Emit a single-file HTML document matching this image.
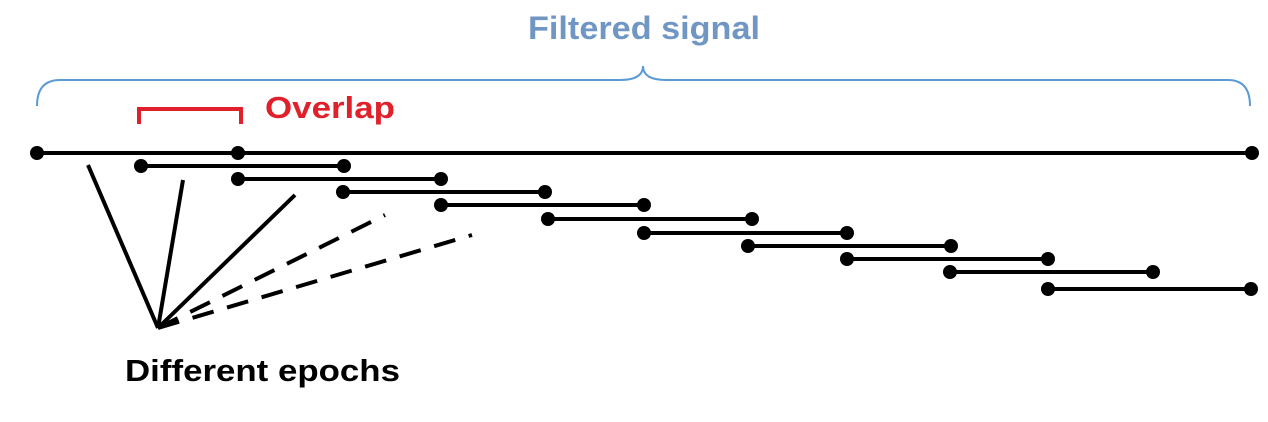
<!DOCTYPE html>
<html>
<head>
<meta charset="utf-8">
<style>
html,body{margin:0;padding:0;background:#fff;}
svg{display:block;}
text{font-family:"Liberation Sans",sans-serif;font-weight:bold;}
</style>
</head>
<body>
<svg id="chart" width="1268" height="422" viewBox="0 0 1268 422">
  <text x="528" y="39" textLength="232" lengthAdjust="spacingAndGlyphs" font-size="32" fill="#7096c4">Filtered signal</text>
  <path d="M37,106 Q37,80 60,80 L620,80 Q643,80 643,66 Q643,80 666,80 L1228,80 Q1250,80 1250,106" fill="none" stroke="#5b9bd5" stroke-width="2"/>
  <path d="M139,124 L139,109 L241,109 L241,124" fill="none" stroke="#e0202a" stroke-width="4"/>
  <text x="265" y="118" textLength="130" lengthAdjust="spacingAndGlyphs" font-size="31" fill="#e0202a">Overlap</text>
  <g id="marks"></g>
  <text x="125" y="381" textLength="275" lengthAdjust="spacingAndGlyphs" font-size="31" fill="#000">Different epochs</text>
</svg>
<script>
const signalStart = 37;
const signalEnd = 1252;
const epochStarts = [141, 238, 343, 441, 548, 644, 748, 847, 950, 1048];
const epochEnds = [344, 441, 545, 644, 752, 847, 951, 1048, 1153, 1251];
const epochRows = [166, 179, 192, 205, 219, 233, 246, 259, 272, 289];
const pointerTargetsX = [88, 183, 295, 385, 472];
const pointerTargetsY = [165, 180, 195, 215, 235];
const pointerDashed = [false, false, false, true, true];

const NS = "http://www.w3.org/2000/svg";
const g = document.getElementById('marks');
function line(x1,y1,x2,y2,w,dash){
  const l = document.createElementNS(NS,'line');
  l.setAttribute('x1',x1);l.setAttribute('y1',y1);l.setAttribute('x2',x2);l.setAttribute('y2',y2);
  l.setAttribute('stroke','#000');l.setAttribute('stroke-width',w);
  if(dash) l.setAttribute('stroke-dasharray','22 14');
  g.appendChild(l);return l;
}
function dot(x,y){
  const c = document.createElementNS(NS,'circle');
  c.setAttribute('cx',x);c.setAttribute('cy',y);c.setAttribute('r',7);c.setAttribute('fill','#000');
  g.appendChild(c);return c;
}
const main = line(signalStart,153,signalEnd,153,4,false);


[signalStart, 238, signalEnd].forEach(x=>{
  const d = dot(x,153);
  
  
});
for(let i=0;i<epochStarts.length;i++){
  const l = line(epochStarts[i],epochRows[i],epochEnds[i],epochRows[i],4,false);
  
  
  const a = dot(epochStarts[i],epochRows[i]);
  
  
  const b = dot(epochEnds[i],epochRows[i]);
  
  
}
for(let i=0;i<pointerTargetsX.length;i++){
  const p = line(158,328,pointerTargetsX[i],pointerTargetsY[i],4,pointerDashed[i]);
  
  
}
</script>
</body>
</html>
